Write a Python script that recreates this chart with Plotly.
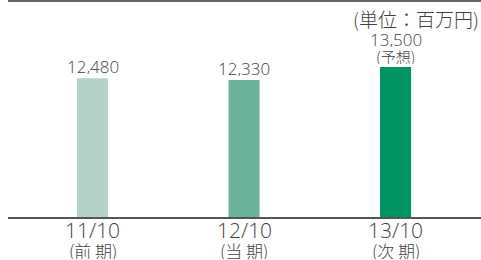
import plotly.graph_objects as go

periods = ["11/10", "12/10", "13/10"]
period_notes = ["(前 期)", "(当 期)", "(次 期)"]
values = [12480, 12330, 13500]
value_notes = ["", "", "(予想)"]
colors = ["#b3d3c6", "#6ab29a", "#009364"]
unit_label = "(単位：百万円)"

NUM_FONT = "Open Sans, Noto Sans CJK JP"
CJK_FONT = "Noto Sans CJK JP"
TXT = "#3f3f3f"

xs = list(range(len(periods)))

fig = go.Figure()
fig.add_trace(go.Bar(
    x=xs, y=values, width=0.205,
    marker=dict(color=colors, line=dict(width=0)),
    hoverinfo="skip",
))

# value labels above bars
for x, v, n in zip(xs, values, value_notes):
    fig.add_annotation(x=x, y=v, xref="x", yref="y", text=f"{v:,}", showarrow=False,
                       yanchor="middle", yshift=(28 if n else 12), height=16,
                       font=dict(family=NUM_FONT, size=17, color=TXT, weight=300))
    if n:
        fig.add_annotation(x=x, y=v, xref="x", yref="y", text=n, showarrow=False,
                           yanchor="middle", yshift=11, height=16,
                           font=dict(family=CJK_FONT, size=15, color=TXT, weight=300))

# category labels
for x, p, n in zip(xs, periods, period_notes):
    fig.add_annotation(x=x, y=0, xref="x", yref="paper", text=p, showarrow=False,
                       yanchor="middle", yshift=-13, height=20,
                       font=dict(family=NUM_FONT, size=21, color=TXT, weight=300))
    fig.add_annotation(x=x, y=0, xref="x", yref="paper", text=n, showarrow=False,
                       yanchor="middle", yshift=-33, height=18,
                       font=dict(family=CJK_FONT, size=17, color=TXT, weight=300))

fig.update_layout(
    width=481, height=260,
    margin=dict(l=8, r=0, t=20, b=43, autoexpand=False),
    paper_bgcolor="white", plot_bgcolor="white",
    showlegend=False,
    font=dict(family=CJK_FONT, color=TXT),
    xaxis=dict(
        range=[-0.558, 2.564], showticklabels=False, automargin=False,
        showgrid=False, zeroline=False, showline=True, linecolor="#555555", linewidth=1.5,
        ticks="", fixedrange=True,
    ),
    yaxis=dict(range=[0, 17716], visible=False, automargin=False, showgrid=False,
               zeroline=False, fixedrange=True),
)

fig.add_shape(type="line", xref="paper", yref="paper", x0=0, x1=1, y0=1.097, y1=1.097,
              line=dict(color="#666666", width=2))
fig.add_annotation(text=unit_label, xref="paper", yref="paper", x=1.0, y=1.01,
                   xanchor="right", yanchor="middle", showarrow=False,
                   font=dict(family=CJK_FONT, size=19, color=TXT, weight=300))

fig.write_html("out.html", config={"displayModeBar": False},
               post_script="document.body.style.margin='0px';document.body.style.overflow='hidden';")
